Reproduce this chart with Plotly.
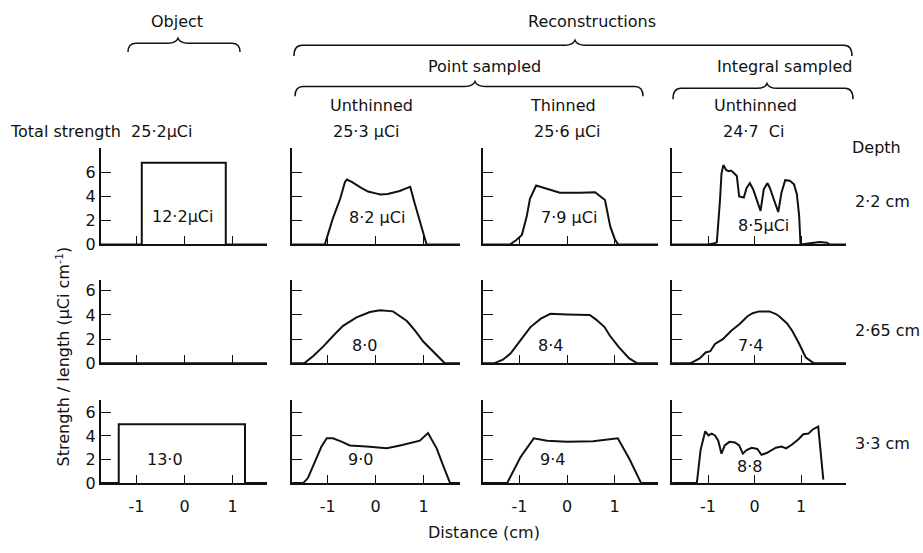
import plotly.graph_objects as go

W, H = 923, 553

# ---------------- data (distance in cm, strength/length in uCi/cm) ----------------
obj_22_x = [-1.74, -0.89, -0.89, 0.86, 0.86, 1.72]
obj_22_y = [0, 0, 6.8, 6.8, 0, 0]

obj_265_x = [-1.74, 1.72]
obj_265_y = [0, 0]

obj_33_x = [-1.74, -1.37, -1.37, 1.26, 1.26, 1.72]
obj_33_y = [0, 0, 5.0, 5.0, 0, 0]

pu_22_x = [-1.74, -1.06, -0.99, -0.89, -0.74, -0.64, -0.6, -0.5, -0.3, -0.16, 0.0, 0.1, 0.25, 0.36, 0.5, 0.62, 0.72, 0.8, 0.9, 0.96, 1.06, 1.76]
pu_22_y = [0, 0, 0.9, 2.2, 3.8, 5.2, 5.4, 5.2, 4.7, 4.4, 4.25, 4.15, 4.2, 4.3, 4.45, 4.65, 4.8, 3.6, 2.2, 1.4, 0, 0]

pt_22_x = [-1.77, -1.2, -1.06, -0.95, -0.85, -0.78, -0.65, -0.43, -0.15, 0.27, 0.59, 0.8, 0.91, 1.01, 1.08, 1.92]
pt_22_y = [0, 0, 0.4, 0.8, 2.3, 3.8, 4.9, 4.65, 4.3, 4.3, 4.35, 3.7, 1.5, 0.4, 0, 0]

iu_22_x = [-1.77, -1.0, -0.85, -0.81, -0.74, -0.71, -0.67, -0.61, -0.56, -0.51, -0.46, -0.38, -0.33, -0.23, -0.17, -0.1, -0.03, 0.05, 0.13, 0.2, 0.28, 0.33, 0.44, 0.51, 0.58, 0.66, 0.76, 0.85, 0.91, 0.96, 0.99, 1.27, 1.4, 1.56, 1.62, 1.97]
iu_22_y = [0, 0, 0.1, 0.2, 3.8, 5.9, 6.6, 6.2, 6.1, 6.15, 6.0, 5.7, 4.0, 3.9, 4.7, 5.1, 4.6, 3.6, 2.8, 4.6, 5.1, 4.7, 3.5, 2.7, 4.3, 5.35, 5.3, 5.0, 4.2, 2.4, 0, 0.1, 0.2, 0.15, 0, 0]

pu_265_x = [-1.74, -1.49, -1.3, -1.09, -0.88, -0.68, -0.4, -0.12, 0.09, 0.36, 0.65, 0.82, 0.99, 1.24, 1.44, 1.76]
pu_265_y = [0, 0, 0.6, 1.4, 2.3, 3.1, 3.8, 4.25, 4.4, 4.3, 3.5, 2.7, 1.8, 0.8, 0, 0]

pt_265_x = [-1.77, -1.54, -1.35, -1.19, -0.98, -0.77, -0.55, -0.35, 0.0, 0.48, 0.62, 0.79, 0.9, 1.03, 1.1, 1.31, 1.48, 1.92]
pt_265_y = [0, 0, 0.3, 0.8, 1.9, 3.0, 3.7, 4.1, 4.05, 4.0, 3.6, 3.0, 2.3, 1.6, 1.3, 0.4, 0, 0]

iu_265_x = [-1.77, -1.38, -1.28, -1.18, -1.05, -0.95, -0.85, -0.68, -0.5, -0.32, -0.15, -0.04, 0.1, 0.32, 0.45, 0.53, 0.7, 0.81, 0.95, 1.1, 1.24, 1.3, 1.97]
iu_265_y = [0, 0, 0.2, 0.4, 0.9, 1.0, 1.6, 2.0, 2.7, 3.25, 3.9, 4.15, 4.3, 4.3, 4.1, 3.9, 3.3, 2.7, 1.7, 0.5, 0.1, 0, 0]

pu_33_x = [-1.74, -1.51, -1.41, -1.23, -1.13, -1.02, -0.89, -0.7, -0.54, -0.19, 0.05, 0.23, 0.51, 0.75, 0.92, 1.09, 1.27, 1.4, 1.55, 1.76]
pu_33_y = [0, 0, 0.45, 2.1, 3.1, 3.8, 3.8, 3.5, 3.2, 3.1, 3.05, 2.95, 3.2, 3.4, 3.6, 4.25, 2.95, 1.55, 0, 0]

pt_33_x = [-1.77, -1.26, -0.98, -0.7, -0.42, 0.0, 0.55, 1.07, 1.32, 1.56, 1.92]
pt_33_y = [0, 0, 2.2, 3.8, 3.6, 3.5, 3.55, 3.8, 2.0, 0, 0]

iu_33_x = [-1.77, -1.24, -1.16, -1.06, -0.99, -0.92, -0.85, -0.78, -0.71, -0.64, -0.54, -0.42, -0.33, -0.25, -0.17, -0.06, 0.06, 0.15, 0.26, 0.37, 0.46, 0.58, 0.68, 0.8, 0.94, 1.05, 1.16, 1.25, 1.37, 1.48]
iu_33_y = [0, 0, 2.8, 4.4, 4.05, 4.2, 4.05, 3.6, 2.5, 3.2, 3.5, 3.45, 3.2, 2.5, 2.8, 3.0, 2.9, 2.4, 2.55, 2.8, 3.0, 3.1, 2.95, 3.25, 3.7, 4.15, 4.2, 4.55, 4.8, 0.3]

panel_x = [[obj_22_x, pu_22_x, pt_22_x, iu_22_x],
           [obj_265_x, pu_265_x, pt_265_x, iu_265_x],
           [obj_33_x, pu_33_x, pt_33_x, iu_33_x]]
panel_y = [[obj_22_y, pu_22_y, pt_22_y, iu_22_y],
           [obj_265_y, pu_265_y, pt_265_y, iu_265_y],
           [obj_33_y, pu_33_y, pt_33_y, iu_33_y]]

panel_labels = [["12·2μCi", "8·2 μCi", "7·9 μCi", "8·5μCi"],
                ["", "8·0", "8·4", "7·4"],
                ["13·0", "9·0", "9·4", "8·8"]]
depth_labels = ["2·2 cm", "2·65 cm", "3·3 cm"]
x_ticks = [-1, 0, 1]
x_tick_text = ["-1", "0", "1"]
y_ticks_row = [[0, 2, 4, 6, 8], [0, 2, 4, 6], [0, 2, 4, 6]]
y_tick_text_row = [["0", "2", "4", "6", ""], ["0", "2", "4", "6"], ["0", "2", "4", "6"]]

# ---------------- layout geometry (pixels) ----------------
# columns: left px, right px, px of x=0, px per cm
cols = [(101, 267, 184.5, 48.0), (292, 460, 375.7, 48.0),
        (483, 658, 567.0, 47.5), (672, 846, 754.5, 46.5)]
# rows: top px, baseline px, px per unit
rows = [(151, 249, 12.25), (285, 370, 12.3), (407, 492, 12.0)]
label_pos = [[(182, 220), (377, 222), (569, 222), (763, 230)],
             [(0, 0), (364, 352), (550, 352), (750, 352)],
             [(165, 468), (360, 468), (552, 468), (749, 475)]]
depth_y = [205, 337, 452]

FONT = "DejaVu Sans"
BLACK = "#111111"


def X(px):
    return px / W


def Y(py):
    return 1 - py / H


fig = go.Figure()
layout = dict(width=W, height=H, autosize=False,
              margin=dict(l=0, r=0, t=0, b=0),
              paper_bgcolor="white", plot_bgcolor="white",
              showlegend=False, font=dict(family=FONT, size=16, color=BLACK))
annotations = []

for r in range(3):
    top, base, ppu = rows[r]
    for c in range(4):
        left, right, x0, ppc = cols[c]
        k = r * 4 + c + 1
        sfx = "" if k == 1 else str(k)
        fig.add_trace(go.Scatter(x=panel_x[r][c], y=panel_y[r][c], mode="lines",
                                 line=dict(color=BLACK, width=2),
                                 xaxis="x" + sfx, yaxis="y" + sfx,
                                 hoverinfo="skip"))
        layout["xaxis" + sfx] = dict(
            domain=[X(left), X(right)],
            range=[(left - x0) / ppc, (right - x0) / ppc],
            anchor="y" + sfx, showgrid=False, zeroline=False,
            showline=True, linecolor=BLACK, linewidth=2,
            ticks="inside", ticklen=8, tickwidth=1.2, tickcolor=BLACK,
            tickvals=x_ticks, ticktext=x_tick_text,
            showticklabels=(r == 2), tickfont=dict(size=16, family=FONT),
            ticklabelstandoff=8)
        yt = y_ticks_row[r] if c == 0 else y_ticks_row[r][1:]
        ytt = y_tick_text_row[r] if c == 0 else y_tick_text_row[r][1:]
        layout["yaxis" + sfx] = dict(
            domain=[Y(base), Y(top)],
            range=[0, (base - top) / ppu],
            anchor="x" + sfx, showgrid=False, zeroline=False,
            showline=True, linecolor=BLACK, linewidth=2,
            ticks="inside", ticklen=10, tickwidth=1.2, tickcolor=BLACK,
            tickvals=yt, ticktext=ytt,
            showticklabels=(c == 0), tickfont=dict(size=16, family=FONT))
        if panel_labels[r][c]:
            lx, ly = label_pos[r][c]
            annotations.append(dict(x=X(lx), y=Y(ly), xref="paper", yref="paper",
                                    text=panel_labels[r][c], showarrow=False,
                                    xanchor="center", yanchor="middle",
                                    font=dict(size=16)))
    annotations.append(dict(x=X(853), y=Y(depth_y[r]), xref="paper", yref="paper",
                            text=depth_labels[r], showarrow=False,
                            xanchor="left", yanchor="middle", font=dict(size=16)))

headers = [("Object", 177, 22, "center"),
           ("Reconstructions", 592, 22, "center"),
           ("Point sampled", 484, 68, "center"),
           ("Integral sampled", 784, 68, "center"),
           ("Unthinned", 371, 107, "center"),
           ("Thinned", 563, 107, "center"),
           ("Unthinned", 755, 107, "center"),
           ("Total strength\u00a0\u00a025·2μCi", 8, 134, "left"),
           ("25·3 μCi", 366, 134, "center"),
           ("25·6 μCi", 567, 134, "center"),
           ("24·7\u00a0\u00a0Ci", 753, 134, "center"),
           ("Depth", 850, 150, "left"),
           ("Distance (cm)", 484, 542, "center")]
for txt, px, py, anc in headers:
    annotations.append(dict(x=X(px), y=Y(py), xref="paper", yref="paper", text=txt,
                            showarrow=False, xanchor=anc, yanchor="middle",
                            font=dict(size=16)))

annotations.append(dict(x=X(63), y=Y(363), xref="paper", yref="paper",
                        text="Strength / length (μCi cm<sup>-1</sup>)", textangle=-90,
                        showarrow=False, xanchor="center", yanchor="middle",
                        font=dict(size=16)))


def brace(x1, x2, xm, yl, ye, yn):
    rr, n = 8, 10
    p = (f"M {X(x1)},{Y(ye)} Q {X(x1)},{Y(yl)} {X(x1 + rr)},{Y(yl)} "
         f"L {X(xm - n)},{Y(yl)} Q {X(xm - 2)},{Y(yl)} {X(xm)},{Y(yn)} "
         f"Q {X(xm + 2)},{Y(yl)} {X(xm + n)},{Y(yl)} L {X(x2 - rr)},{Y(yl)} "
         f"Q {X(x2)},{Y(yl)} {X(x2)},{Y(ye)}")
    return dict(type="path", path=p, xref="paper", yref="paper",
                line=dict(color=BLACK, width=1.5))


layout["shapes"] = [brace(128, 240, 178, 44, 53, 39),
                    brace(294, 852, 575, 46, 57, 41),
                    brace(295, 643, 475, 88, 98, 83),
                    brace(673, 853, 767, 90, 101, 85)]
layout["annotations"] = annotations
fig.update_layout(**layout)
fig.write_html("out.html")
